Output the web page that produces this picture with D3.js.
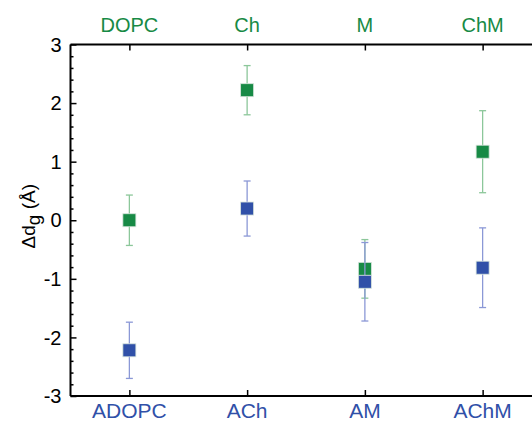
<!DOCTYPE html>
<html>
<head>
<meta charset="utf-8">
<script src="https://cdn.jsdelivr.net/npm/d3@7/dist/d3.min.js"></script>
<style>
  body { margin: 0; background: #fff; overflow: hidden; }
  text { font-family: "Liberation Sans", Arial, sans-serif; }
</style>
</head>
<body>
<div id="chart"></div>
<script>
// categories (top axis: green series, bottom axis: blue series)
const topLabels = ['DOPC', 'Ch', 'M', 'ChM'];
const bottomLabels = ['ADOPC', 'ACh', 'AM', 'AChM'];
const yTicks = [-3, -2, -1, 0, 1, 2, 3];

// green series values and errors
const greenValues = [0.0, 2.22, -0.83, 1.17];
const greenErrors = [0.43, 0.42, 0.50, 0.70];
// blue series values and errors
const blueValues = [-2.22, 0.20, -1.05, -0.81];
const blueErrors = [0.48, 0.47, 0.67, 0.68];

const width = 532, height = 421;
const margin = {top: 44.5, left: 70.5};
const plotW = 471, plotH = 351.5;

const svg = d3.select('#chart').append('svg')
    .attr('width', width)
    .attr('height', height)
    .style('display', 'block');

const g = svg.append('g')
    .attr('transform', `translate(${margin.left}, ${margin.top})`);

const x = d3.scaleLinear().domain([0, 4]).range([0, plotW]);
const y = d3.scaleLinear().domain([-3, 3]).range([plotH, 0]);
const xPos = i => x(i + 0.5);

const green = '#178a45', greenErr = '#8cc79a';
const blue = '#3050a8', blueErr = '#8b98d6';
const tickFont = 20;

// y axis (ticks inward)
const yAxis = d3.axisRight(y)
    .tickValues(yTicks)
    .tickSize(6)
    .tickFormat('');
const yAxisG = g.append('g').call(yAxis);
const yMinor = d3.axisRight(y)
    .tickValues(d3.range(-3, 3.001, 0.2).filter(v => Math.abs(v - Math.round(v)) > 0.01))
    .tickSize(3)
    .tickFormat('');
const yMinorG = g.append('g').call(yMinor);
[yAxisG, yMinorG].forEach(a => {
    a.select('.domain').remove();
    a.selectAll('line').attr('stroke', '#000').attr('stroke-width', 1.5);
});
g.append('line')
    .attr('x1', 0).attr('x2', 0)
    .attr('y1', 0).attr('y2', plotH)
    .attr('stroke', '#000').attr('stroke-width', 2);

g.selectAll('.ylab')
    .data(yTicks)
    .enter()
    .append('text')
    .attr('class', 'ylab')
    .attr('x', -9)
    .attr('y', d => y(d))
    .attr('dy', '0.36em')
    .attr('text-anchor', 'end')
    .attr('font-size', tickFont)
    .text(d => d);

// top axis
const topAxis = d3.axisBottom(x)
    .tickValues([0.5, 1.5, 2.5, 3.5])
    .tickSize(6)
    .tickSizeOuter(0)
    .tickFormat('');
const topG = g.append('g').call(topAxis);
topG.select('.domain').remove();
topG.selectAll('line').attr('stroke', '#000').attr('stroke-width', 1.5);
g.append('line')
    .attr('x1', 0).attr('x2', plotW)
    .attr('y1', 0).attr('y2', 0)
    .attr('stroke', '#000').attr('stroke-width', 2);

// bottom axis
const bottomAxis = d3.axisTop(x)
    .tickValues([0.5, 1.5, 2.5, 3.5])
    .tickSize(6)
    .tickSizeOuter(0)
    .tickFormat('');
const botG = g.append('g')
    .attr('transform', `translate(0, ${plotH})`)
    .call(bottomAxis);
botG.select('.domain').remove();
botG.selectAll('line').attr('stroke', '#000').attr('stroke-width', 1.5);
g.append('line')
    .attr('x1', 0).attr('x2', plotW)
    .attr('y1', plotH).attr('y2', plotH)
    .attr('stroke', '#000').attr('stroke-width', 2);

g.selectAll('.toplab')
    .data(topLabels)
    .enter()
    .append('text')
    .attr('class', 'toplab')
    .attr('x', (d, i) => xPos(i))
    .attr('y', -13)
    .attr('text-anchor', 'middle')
    .attr('font-size', tickFont)
    .attr('fill', green)
    .text(d => d);

g.selectAll('.botlab')
    .data(bottomLabels)
    .enter()
    .append('text')
    .attr('class', 'botlab')
    .attr('x', (d, i) => xPos(i))
    .attr('y', plotH + 21.5)
    .attr('text-anchor', 'middle')
    .attr('font-size', 21)
    .attr('fill', blue)
    .text(d => d);

// y title
const title = svg.append('text')
    .attr('transform', `translate(35, ${margin.top + y(0) - 4}) rotate(-90)`)
    .attr('text-anchor', 'middle')
    .attr('font-size', 19);
title.append('tspan').text('\u0394d');
title.append('tspan').attr('dy', 5).text('g');
title.append('tspan').attr('dy', -5).text(' (\u00C5)');

// series
function drawSeries(values, errors, color, errColor) {
    const s = g.append('g');
    const pts = values.map((v, i) => ({i, v, e: errors[i]}));
    s.selectAll('.err')
        .data(pts)
        .enter()
        .append('line')
        .attr('x1', d => xPos(d.i)).attr('x2', d => xPos(d.i))
        .attr('y1', d => y(d.v + d.e)).attr('y2', d => y(d.v - d.e))
        .attr('stroke', errColor).attr('stroke-width', 1.3);
    [1, -1].forEach(sign => {
        s.selectAll('.cap' + sign)
            .data(pts)
            .enter()
            .append('line')
            .attr('x1', d => xPos(d.i) - 3.5).attr('x2', d => xPos(d.i) + 3.5)
            .attr('y1', d => y(d.v + sign * d.e)).attr('y2', d => y(d.v + sign * d.e))
            .attr('stroke', errColor).attr('stroke-width', 1.3);
    });
    s.selectAll('rect')
        .data(pts)
        .enter()
        .append('rect')
        .attr('x', d => xPos(d.i) - 6.5)
        .attr('y', d => y(d.v) - 6.5)
        .attr('width', 13).attr('height', 13)
        .attr('fill', color)
        .attr('stroke', '#d8e4dc')
        .attr('stroke-width', 0.8);
}

drawSeries(greenValues, greenErrors, green, greenErr);
drawSeries(blueValues, blueErrors, blue, blueErr);
</script>
</body>
</html>
